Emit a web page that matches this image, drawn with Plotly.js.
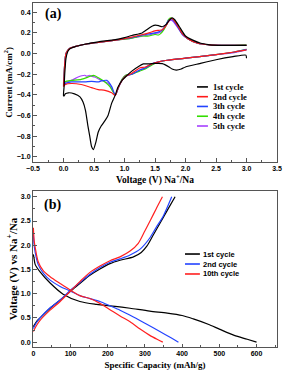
<!DOCTYPE html>
<html>
<head>
<meta charset="utf-8">
<script src="https://cdn.plot.ly/plotly-3.0.1.min.js"></script>
<style>
  html, body { margin: 0; padding: 0; background: #fff; }
  #chart { width: 284px; height: 374px; }
</style>
</head>
<body>
<div id="chart"></div>
<script>
// ---------- Panel (a): cyclic voltammetry ----------
const cvNames = ['1st cycle', '2nd cycle', '3th cycle', '4th cycle', '5th cycle'];
const cvColors = ['#000000', '#ff1a1a', '#2343ff', '#33dd00', '#a640ff'];

// cycle 1 : cathodic branch (3.0 -> 0 V) then anodic branch (0 -> 3.0 V)
const cv1DownV = [3.0, 2.99, 2.78, 2.5, 2.23, 2.0, 1.93, 1.85, 1.78, 1.73, 1.62, 1.5, 1.4, 1.31, 1.23, 1.12, 1.01, 0.96, 0.89, 0.85, 0.79, 0.73, 0.68, 0.62, 0.57, 0.53, 0.49, 0.46, 0.43, 0.4, 0.36, 0.32, 0.27, 0.18, 0.08, 0.03, 0.01];
const cv1DownI = [-0.045, -0.015, -0.03, -0.06, -0.097, -0.13, -0.15, -0.16, -0.15, -0.13, -0.097, -0.095, -0.1, -0.1, -0.125, -0.17, -0.23, -0.26, -0.33, -0.4, -0.48, -0.6, -0.65, -0.7, -0.76, -0.86, -0.93, -0.9, -0.8, -0.7, -0.55, -0.47, -0.42, -0.39, -0.38, -0.39, -0.41];
const cv1UpV = [0.0, 0.01, 0.02, 0.04, 0.07, 0.1, 0.18, 0.35, 0.57, 0.85, 1.0, 1.12, 1.23, 1.29, 1.34, 1.4, 1.45, 1.51, 1.56, 1.62, 1.68, 1.73, 1.78, 1.82, 1.9, 2.0, 2.12, 2.25, 2.4, 2.6, 2.8, 3.0];
const cv1UpI = [-0.41, -0.32, -0.2, -0.05, 0.02, 0.045, 0.065, 0.09, 0.113, 0.135, 0.155, 0.175, 0.19, 0.2, 0.22, 0.245, 0.265, 0.275, 0.27, 0.26, 0.28, 0.32, 0.345, 0.33, 0.26, 0.17, 0.13, 0.1, 0.085, 0.08, 0.08, 0.08];

// cycles 2-5 : anodic branch voltages (shared grid)
const cvUpV = [0.0, 0.01, 0.02, 0.04, 0.07, 0.1, 0.2, 0.4, 0.6, 0.85, 1.0, 1.12, 1.2, 1.3, 1.4, 1.5, 1.56, 1.62, 1.68, 1.72, 1.76, 1.8, 1.85, 1.9, 1.95, 2.05, 2.2, 2.4, 2.7, 3.0];

const cv2DownV = [3.0, 2.8, 2.5, 2.23, 2.0, 1.7, 1.56, 1.45, 1.34, 1.25, 1.12, 1.02, 0.96, 0.89, 0.85, 0.79, 0.68, 0.57, 0.46, 0.29, 0.13, 0.03, 0.0];
const cv2DownI = [0.035, 0.015, -0.01, -0.03, -0.045, -0.065, -0.08, -0.1, -0.13, -0.14, -0.19, -0.22, -0.26, -0.34, -0.405, -0.38, -0.356, -0.35, -0.33, -0.3, -0.29, -0.3, -0.32];
const cv2UpI = [-0.32, -0.22, -0.1, 0.0, 0.03, 0.05, 0.07, 0.095, 0.11, 0.13, 0.145, 0.16, 0.17, 0.185, 0.2, 0.22, 0.225, 0.23, 0.27, 0.31, 0.34, 0.33, 0.29, 0.24, 0.19, 0.14, 0.1, 0.085, 0.08, 0.08];

const cv3DownV = [3.0, 2.8, 2.5, 2.23, 2.0, 1.7, 1.56, 1.45, 1.34, 1.25, 1.12, 1.02, 0.96, 0.9, 0.85, 0.79, 0.71, 0.62, 0.57, 0.46, 0.35, 0.24, 0.13, 0.03, 0.0];
const cv3DownI = [0.04, 0.015, -0.01, -0.03, -0.045, -0.065, -0.08, -0.1, -0.14, -0.16, -0.2, -0.22, -0.26, -0.33, -0.405, -0.32, -0.26, -0.265, -0.275, -0.27, -0.275, -0.275, -0.275, -0.29, -0.31];
const cv3UpI = [-0.31, -0.21, -0.1, 0.0, 0.03, 0.05, 0.07, 0.095, 0.11, 0.13, 0.145, 0.155, 0.165, 0.18, 0.19, 0.2, 0.21, 0.23, 0.28, 0.32, 0.335, 0.32, 0.28, 0.23, 0.185, 0.14, 0.1, 0.085, 0.08, 0.08];

const cv4DownV = [3.0, 2.8, 2.5, 2.23, 2.0, 1.7, 1.56, 1.45, 1.34, 1.25, 1.12, 1.02, 0.96, 0.9, 0.85, 0.76, 0.68, 0.6, 0.53, 0.49, 0.44, 0.4, 0.29, 0.13, 0.03, 0.0];
const cv4DownI = [0.04, 0.015, -0.01, -0.03, -0.045, -0.065, -0.08, -0.11, -0.15, -0.17, -0.2, -0.21, -0.25, -0.33, -0.4, -0.32, -0.275, -0.245, -0.22, -0.212, -0.22, -0.228, -0.25, -0.26, -0.27, -0.29];
const cv4UpI = [-0.29, -0.2, -0.1, 0.0, 0.03, 0.05, 0.07, 0.095, 0.11, 0.13, 0.14, 0.15, 0.16, 0.17, 0.17, 0.185, 0.18, 0.21, 0.27, 0.33, 0.345, 0.33, 0.29, 0.24, 0.19, 0.14, 0.1, 0.085, 0.08, 0.085];

const cv5DownV = [3.0, 2.8, 2.5, 2.23, 2.0, 1.7, 1.56, 1.45, 1.34, 1.25, 1.12, 1.02, 0.96, 0.9, 0.85, 0.74, 0.62, 0.51, 0.46, 0.43, 0.38, 0.35, 0.3, 0.24, 0.13, 0.03, 0.0];
const cv5DownI = [0.035, 0.01, -0.01, -0.03, -0.045, -0.065, -0.08, -0.1, -0.14, -0.16, -0.2, -0.21, -0.25, -0.33, -0.4, -0.29, -0.26, -0.227, -0.22, -0.21, -0.22, -0.21, -0.215, -0.227, -0.26, -0.28, -0.3];
const cv5UpI = [-0.3, -0.2, -0.1, 0.0, 0.03, 0.05, 0.07, 0.095, 0.11, 0.13, 0.14, 0.15, 0.16, 0.17, 0.18, 0.195, 0.2, 0.22, 0.27, 0.31, 0.325, 0.31, 0.27, 0.23, 0.185, 0.14, 0.1, 0.085, 0.08, 0.08];

// ---------- Panel (b): charge / discharge ----------
const gcNames = ['1st cycle', '2nd cycle', '10th cycle'];
const gcColors = ['#000000', '#2343ff', '#ff2020'];

const dis1Cap = [0, 2, 5, 18, 45, 80, 125, 170, 220, 260, 313, 360, 400, 430, 470, 500, 540, 575, 600];
const dis1V   = [1.81, 1.72, 1.6, 1.45, 1.22, 0.99, 0.84, 0.78, 0.74, 0.7, 0.64, 0.6, 0.55, 0.48, 0.37, 0.27, 0.14, 0.06, 0.0];
const dis2Cap = [0, 2, 5, 13, 27, 45, 72, 98, 125, 152, 179, 206, 233, 269, 305, 340, 370, 390];
const dis2V   = [2.24, 2.0, 1.85, 1.6, 1.42, 1.28, 1.15, 1.06, 0.96, 0.9, 0.84, 0.75, 0.66, 0.52, 0.37, 0.22, 0.09, 0.0];
const dis10Cap = [0, 2, 5, 13, 27, 45, 72, 98, 125, 152, 179, 206, 233, 260, 287, 313, 335, 348];
const dis10V   = [2.36, 2.1, 1.95, 1.66, 1.47, 1.35, 1.21, 1.08, 0.96, 0.9, 0.8, 0.67, 0.54, 0.42, 0.27, 0.14, 0.05, 0.0];

const chg1Cap = [0, 8, 18, 45, 72, 98, 125, 152, 179, 206, 233, 269, 290, 305, 320, 340, 360, 381];
const chg1V   = [0.32, 0.42, 0.5, 0.7, 0.87, 1.04, 1.21, 1.38, 1.51, 1.62, 1.69, 1.76, 1.85, 1.98, 2.18, 2.45, 2.72, 3.0];
const chg2Cap = [0, 8, 18, 45, 72, 98, 125, 152, 179, 206, 233, 260, 287, 313, 331, 349, 372];
const chg2V   = [0.28, 0.4, 0.5, 0.71, 0.87, 1.06, 1.23, 1.4, 1.54, 1.65, 1.72, 1.8, 1.92, 2.15, 2.38, 2.6, 3.0];
const chg10Cap = [0, 8, 18, 45, 72, 98, 125, 152, 179, 206, 233, 260, 282, 300, 315, 330, 347];
const chg10V   = [0.22, 0.34, 0.45, 0.66, 0.84, 1.04, 1.25, 1.44, 1.57, 1.68, 1.76, 1.88, 2.04, 2.3, 2.52, 2.75, 3.0];

// ---------- build traces ----------
const LW = 1.2;
const cvLoops = [
  { v: cv1DownV.concat(cv1UpV), i: cv1DownI.concat(cv1UpI) },
  { v: cv2DownV.concat(cvUpV), i: cv2DownI.concat(cv2UpI) },
  { v: cv3DownV.concat(cvUpV), i: cv3DownI.concat(cv3UpI) },
  { v: cv4DownV.concat(cvUpV), i: cv4DownI.concat(cv4UpI) },
  { v: cv5DownV.concat(cvUpV), i: cv5DownI.concat(cv5UpI) }
];
const traces = [];
for (let k = cvLoops.length - 1; k >= 0; k--) {
  traces.push({
    type: 'scatter', mode: 'lines', x: cvLoops[k].v, y: cvLoops[k].i,
    xaxis: 'x', yaxis: 'y', name: cvNames[k], showlegend: false,
    line: { color: cvColors[k], width: LW, shape: 'spline', smoothing: 0.6 }
  });
}
const gc = [
  { dc: dis1Cap, dv: dis1V, cc: chg1Cap, cv: chg1V },
  { dc: dis2Cap, dv: dis2V, cc: chg2Cap, cv: chg2V },
  { dc: dis10Cap, dv: dis10V, cc: chg10Cap, cv: chg10V }
];
gc.forEach((g, k) => {
  traces.push({ type: 'scatter', mode: 'lines', x: g.dc, y: g.dv, xaxis: 'x2', yaxis: 'y2',
    name: gcNames[k], showlegend: false, line: { color: gcColors[k], width: LW, shape: 'spline', smoothing: 0.8 } });
  traces.push({ type: 'scatter', mode: 'lines', x: g.cc, y: g.cv, xaxis: 'x2', yaxis: 'y2',
    name: gcNames[k], showlegend: false, line: { color: gcColors[k], width: LW, shape: 'spline', smoothing: 0.8 } });
});

// ---------- layout ----------
const serif = 'Liberation Serif, Times New Roman, serif';
const sans = 'Liberation Sans, Arial, sans-serif';
const tickFont = { family: sans, size: 7, weight: 'bold', color: '#000' };
const frame = { showline: true, mirror: true, linecolor: '#555', linewidth: 1,
  ticks: 'inside', ticklen: 3.5, tickwidth: 1, tickcolor: '#555',
  showgrid: false, zeroline: false, tickfont: tickFont };

const layout = {
  width: 284, height: 374,
  margin: { l: 33, r: 7, t: 3, b: 27 },
  paper_bgcolor: '#fff', plot_bgcolor: '#fff',
  font: { family: serif, color: '#000' },
  showlegend: false,
  xaxis: Object.assign({}, frame, {
    domain: [0, 1], anchor: 'y', range: [-0.5, 3.5], tick0: -0.5, dtick: 0.5, tickformat: '.1f',
    minor: { ticks: 'inside', ticklen: 2, dtick: 0.25, tickcolor: '#555' },
    title: { text: 'Voltage (V) Na<sup>+</sup>/Na', font: { family: serif, size: 9.5, weight: 'bold' }, standoff: 5 }
  }),
  yaxis: Object.assign({}, frame, {
    domain: [0.538, 1], anchor: 'x', range: [-1.05, 0.49], tick0: 0, dtick: 0.2, tickformat: '.1f',
    minor: { ticks: 'inside', ticklen: 2, dtick: 0.1, tickcolor: '#555' },
    title: { text: 'Current (mA/cm<sup>2</sup>)', font: { family: serif, size: 9, weight: 'bold' }, standoff: 2 }
  }),
  xaxis2: Object.assign({}, frame, {
    domain: [0, 1], anchor: 'y2', range: [-1, 655], tick0: 0, dtick: 100,
    minor: { ticks: 'inside', ticklen: 2, dtick: 50, tickcolor: '#555' },
    title: { text: 'Specific Capacity (mAh/g)', font: { family: serif, size: 9, weight: 'bold' }, standoff: 5 }
  }),
  yaxis2: Object.assign({}, frame, {
    domain: [0, 0.4535], anchor: 'x2', range: [-0.1, 3.12], tick0: 0, dtick: 0.5, tickformat: '.1f',
    minor: { ticks: 'inside', ticklen: 2, dtick: 0.25, tickcolor: '#555' },
    title: { text: 'Voltage (V) vs Na<sup>+</sup>/Na', font: { family: serif, size: 11, weight: 'bold' }, standoff: 1 }
  }),
  shapes: [],
  annotations: [
    { text: '(a)', xref: 'x domain', yref: 'y domain', x: 0.04, y: 0.93, xanchor: 'left', yanchor: 'middle',
      showarrow: false, font: { family: serif, size: 14, weight: 'bold' } },
    { text: '(b)', xref: 'x2 domain', yref: 'y2 domain', x: 0.035, y: 0.91, xanchor: 'left', yanchor: 'middle',
      showarrow: false, font: { family: serif, size: 14, weight: 'bold' } }
  ]
};

// compact legends (keys + labels) built from the series names
function addLegend(names, colors, xr, yr, keyX0, keyX1, textX, yTop, step, font) {
  names.forEach((nm, k) => {
    const yy = yTop - k * step;
    layout.shapes.push({ type: 'line', xref: xr, yref: yr, x0: keyX0, x1: keyX1, y0: yy, y1: yy,
      line: { color: colors[k], width: 1.6 } });
    layout.annotations.push({ text: nm, xref: xr, yref: yr, x: textX, y: yy, xanchor: 'left', yanchor: 'middle',
      showarrow: false, font: font });
  });
}
addLegend(cvNames, cvColors, 'x domain', 'y domain', 0.672, 0.717, 0.728, 0.472, 0.0615,
  { family: serif, size: 8.5, weight: 'bold', color: '#000' });
addLegend(gcNames, gcColors, 'x2 domain', 'y2 domain', 0.623, 0.684, 0.69, 0.596, 0.064,
  { family: sans, size: 7.5, weight: 'bold', color: '#000' });

Plotly.newPlot('chart', traces, layout, { staticPlot: true, displayModeBar: false });
</script>
</body>
</html>
